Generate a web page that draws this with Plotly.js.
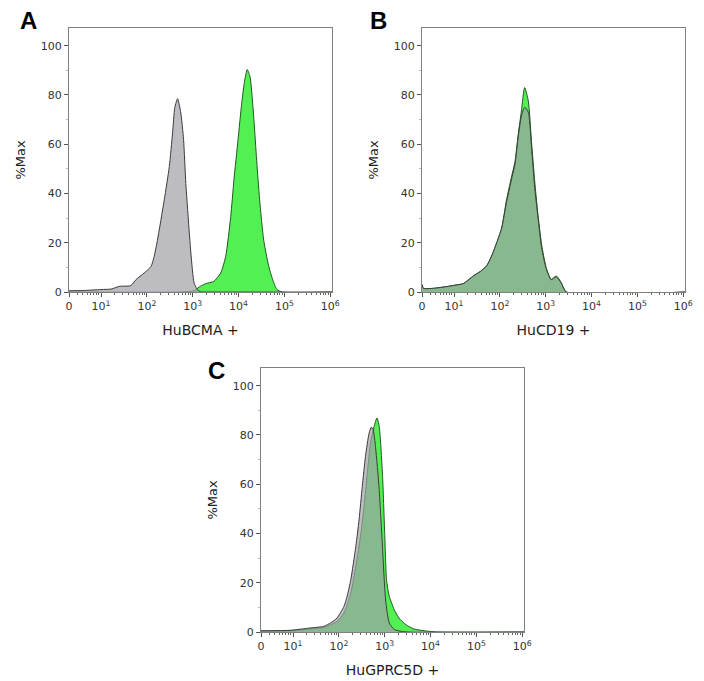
<!DOCTYPE html>
<html>
<head>
<meta charset="utf-8">
<script src="https://cdn.plot.ly/plotly-3.0.1.min.js"></script>
<style>html,body{margin:0;padding:0;background:#fff;}#chart{width:704px;height:681px;}</style>
</head>
<body>
<div id="chart"></div>
<script>
// x values are positions on the log (biexponential) fluorescence axis, in decades (10^k at k)
const tickVals = [0.3, 1, 2, 3, 4, 5, 6];
const tickText = ['0', '10<sup>1</sup>', '10<sup>2</sup>', '10<sup>3</sup>', '10<sup>4</sup>', '10<sup>5</sup>', '10<sup>6</sup>'];
const panelTitles = ['HuBCMA +', 'HuCD19 +', 'HuGPRC5D +'];
const panelLetters = ['A', 'B', 'C'];

// Panel A – HuBCMA
const aGrayX = [0.30, 0.60, 1.00, 1.22, 1.40, 1.65, 1.76, 1.94, 2.09, 2.16, 2.23, 2.38, 2.49, 2.56, 2.61, 2.67, 2.74, 2.80, 2.85, 2.90, 2.96, 3.03, 3.10, 3.17, 3.40, 6.04];
const aGrayY = [0.5, 0.6, 1.0, 1.2, 2.3, 2.6, 5.0, 7.7, 10.4, 14.5, 21.0, 37.5, 51.0, 64.5, 75.0, 78.5, 72.7, 62.0, 44.0, 30.7, 15.8, 3.7, 1.0, 0.1, 0, 0];
const aGreenX = [0.30, 2.74, 3.03, 3.14, 3.28, 3.46, 3.61, 3.72, 3.83, 3.90, 3.99, 4.06, 4.13, 4.19, 4.25, 4.32, 4.39, 4.46, 4.55, 4.66, 4.77, 4.84, 4.95, 6.04];
const aGreenY = [0, 0, 0.5, 2.0, 3.4, 4.3, 7.7, 14.5, 30.7, 45.6, 62.0, 75.0, 85.5, 90.3, 87.5, 74.0, 55.0, 37.5, 21.0, 10.4, 3.7, 1.0, 0, 0];

// Panel B – HuCD19
const bGrayX = [0.30, 0.33, 0.55, 0.84, 1.00, 1.20, 1.42, 1.57, 1.71, 1.82, 1.93, 2.04, 2.14, 2.25, 2.33, 2.40, 2.47, 2.54, 2.62, 2.69, 2.76, 2.83, 2.91, 3.01, 3.12, 3.23, 3.34, 3.45, 6.04];
const bGrayY = [3.0, 1.5, 1.5, 2.2, 2.7, 3.4, 6.5, 8.3, 10.6, 14.6, 20.0, 26.0, 36.0, 45.5, 52.0, 63.0, 71.5, 75.0, 73.0, 58.7, 42.4, 30.5, 18.0, 9.5, 5.0, 6.2, 3.6, 0, 0];
const bGreenX = [0.30, 0.33, 0.55, 0.84, 1.00, 1.20, 1.42, 1.57, 1.71, 1.82, 1.93, 2.04, 2.14, 2.25, 2.33, 2.40, 2.47, 2.54, 2.62, 2.69, 2.76, 2.83, 2.91, 3.01, 3.12, 3.23, 3.34, 3.45, 6.04];
const bGreenY = [3.0, 1.5, 1.5, 2.2, 2.7, 3.4, 6.5, 8.3, 10.6, 14.6, 20.0, 26.0, 37.0, 46.5, 53.0, 64.0, 73.6, 83.0, 77.6, 61.0, 45.0, 31.6, 19.4, 9.9, 5.1, 6.5, 3.8, 0, 0];

// Panel C – HuGPRC5D
const cGrayX = [0.30, 0.94, 1.31, 1.67, 1.82, 1.96, 2.11, 2.18, 2.26, 2.37, 2.44, 2.51, 2.58, 2.66, 2.71, 2.75, 2.80, 2.88, 2.95, 3.02, 3.10, 3.21, 3.42, 6.04];
const cGrayY = [0.5, 0.7, 1.5, 2.3, 3.7, 5.7, 10.4, 14.5, 21.2, 34.8, 45.6, 59.0, 71.3, 80.8, 83.2, 82.0, 75.0, 57.8, 34.8, 13.0, 3.7, 1.0, 0.1, 0];
const cGreenX = [0.30, 0.94, 1.31, 1.67, 1.96, 2.11, 2.26, 2.37, 2.48, 2.55, 2.62, 2.69, 2.77, 2.83, 2.88, 2.95, 3.00, 3.04, 3.10, 3.21, 3.31, 3.46, 3.64, 3.86, 4.08, 6.04];
const cGreenY = [0.3, 0.5, 1.1, 1.9, 4.3, 7.7, 15.8, 26.7, 40.0, 51.0, 64.5, 76.7, 83.5, 86.9, 83.5, 64.5, 40.0, 21.2, 14.5, 9.0, 5.7, 3.0, 1.2, 0.5, 0.1, 0];

const greenFill = '#52f052';
const greenLine = '#1f5a1f';
const grayFill = 'rgba(160,160,166,0.7)';
const grayLine = '#3c3c3c';

const panels = [
  {gx: aGreenX, gy: aGreenY, kx: aGrayX, ky: aGrayY},
  {gx: bGreenX, gy: bGreenY, kx: bGrayX, ky: bGrayY},
  {gx: cGreenX, gy: cGreenY, kx: cGrayX, ky: cGrayY}
];

// panel frames in pixels: [left, right, top, bottom]
const W = 704, H = 681;
const boxes = [[69, 332, 28, 292], [422, 685, 28, 292], [261, 524, 368, 632]];

const minorX = [];
for (const k of [3,4,5,6,7,8,9]) minorX.push(Math.log10(k));
for (let n = 1; n < 6; n++) for (let k = 2; k <= 9; k++) minorX.push(n + Math.log10(k));

const traces = [];
const layout = {
  width: W, height: H,
  margin: {l: 0, r: 0, t: 0, b: 0},
  paper_bgcolor: '#fff', plot_bgcolor: '#fff',
  showlegend: false,
  font: {family: 'DejaVu Sans', color: '#333', size: 11},
  annotations: []
};

panels.forEach((p, i) => {
  const sfx = i === 0 ? '' : String(i + 1);
  const xa = 'x' + sfx, ya = 'y' + sfx;
  traces.push({x: p.gx, y: p.gy, xaxis: xa, yaxis: ya, type: 'scatter', mode: 'lines',
    line: {color: greenLine, width: 1, shape: 'spline', smoothing: 0.6}, fill: 'tozeroy', fillcolor: greenFill, hoverinfo: 'skip'});
  traces.push({x: p.kx, y: p.ky, xaxis: xa, yaxis: ya, type: 'scatter', mode: 'lines',
    line: {color: grayLine, width: 1, shape: 'spline', smoothing: 0.6}, fill: 'tozeroy', fillcolor: grayFill, hoverinfo: 'skip'});
  const [l, r, t, b] = boxes[i];
  layout['xaxis' + sfx] = {
    domain: [l / W, r / W], anchor: ya, range: [0.3, 6.04],
    showline: true, mirror: true, linecolor: '#808080', linewidth: 1,
    showgrid: false, zeroline: false,
    tickmode: 'array', tickvals: tickVals, ticktext: tickText,
    ticks: 'outside', ticklen: 4, tickcolor: '#555',
    tickfont: {family: 'DejaVu Sans', size: 11, color: '#333'},
    minor: {tickmode: 'array', tickvals: minorX, ticks: 'outside', ticklen: 2, tickcolor: '#666', showgrid: false},
    title: {text: panelTitles[i], font: {family: 'DejaVu Sans', size: 14, color: '#222'}, standoff: 12}
  };
  layout['yaxis' + sfx] = {
    domain: [1 - b / H, 1 - t / H], anchor: xa, range: [0, 107.2],
    showline: true, mirror: true, linecolor: '#808080', linewidth: 1,
    showgrid: false, zeroline: false,
    tickmode: 'array', tickvals: [0, 20, 40, 60, 80, 100],
    ticks: 'outside', ticklen: 4, tickcolor: '#555',
    tickfont: {family: 'DejaVu Sans', size: 11, color: '#333'},
    minor: {tickmode: 'array', tickvals: [10, 30, 50, 70, 90], ticks: 'outside', ticklen: 2, tickcolor: '#bbb', showgrid: false},
    title: {text: '%Max', font: {family: 'DejaVu Sans', size: 13, color: '#222'}, standoff: 12}
  };
});

const letterPos = [[18, 20], [368, 20], [206, 370]];
panelLetters.forEach((L, i) => {
  layout.annotations.push({
    text: '<b>' + L + '</b>', xref: 'paper', yref: 'paper',
    x: letterPos[i][0] / W, y: 1 - letterPos[i][1] / H, xanchor: 'left', yanchor: 'middle',
    showarrow: false, font: {family: 'Liberation Sans', size: 24, color: '#000'}
  });
});

Plotly.newPlot('chart', traces, layout, {staticPlot: true, displayModeBar: false});
</script>
</body>
</html>
